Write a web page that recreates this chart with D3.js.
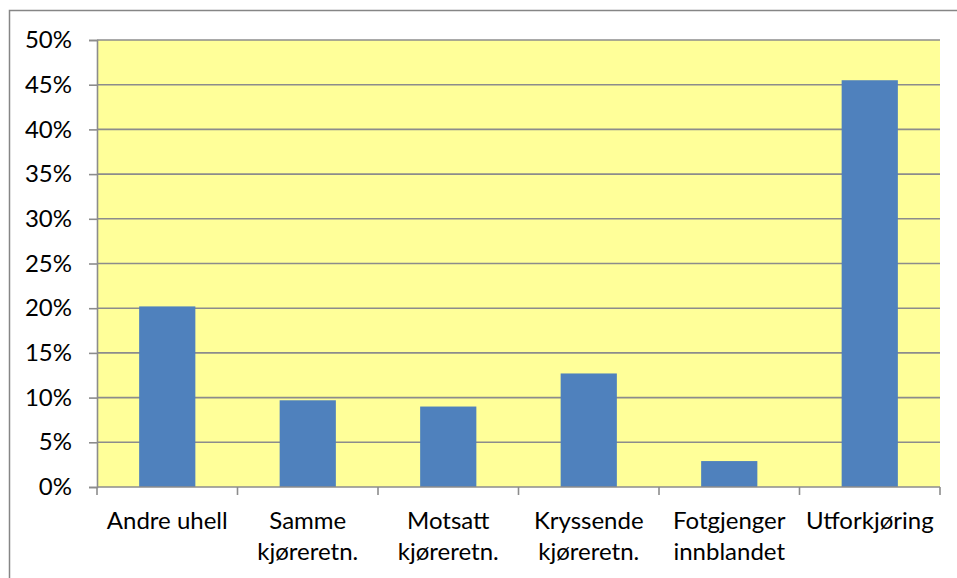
<!DOCTYPE html>
<html>
<head>
<meta charset="utf-8">
<script src="https://cdn.jsdelivr.net/npm/d3@7"></script>
<style>
  html, body { margin: 0; padding: 0; background: #fff; }
  svg { display: block; }
  text { font-family: Lato, "Open Sans", sans-serif; fill: #000; }
</style>
</head>
<body>
<svg id="chart" width="957" height="578"></svg>
<script>
// Share of accidents by accident type
const categories = [
  ["Andre uhell"],
  ["Samme", "kjøreretn."],
  ["Motsatt", "kjøreretn."],
  ["Kryssende", "kjøreretn."],
  ["Fotgjenger", "innblandet"],
  ["Utforkjøring"]
];
const values = [0.202, 0.097, 0.090, 0.127, 0.029, 0.455];
const yTicks = [0, 0.05, 0.10, 0.15, 0.20, 0.25, 0.30, 0.35, 0.40, 0.45, 0.50];

const svg = d3.select("#chart");
const plot = { left: 97, top: 40, right: 940, bottom: 487 };
const fontSize = 24;

// Outer chart frame
svg.append("rect")
  .attr("x", 9.5).attr("y", 10.5)
  .attr("width", 1000).attr("height", 1000)
  .attr("fill", "#fff")
  .attr("stroke", "#868686").attr("stroke-width", 1.5);

const x = d3.scaleBand()
  .domain(d3.range(categories.length))
  .range([plot.left, plot.right])
  .paddingInner(0.6).paddingOuter(0.3);

const xGroup = d3.scaleBand()
  .domain(d3.range(categories.length))
  .range([plot.left, plot.right]);

const y = d3.scaleLinear().domain([0, 0.5]).range([plot.bottom, plot.top]);

// Plot background
svg.append("rect")
  .attr("x", plot.left).attr("y", plot.top)
  .attr("width", plot.right - plot.left).attr("height", plot.bottom - plot.top)
  .attr("fill", "#FFFF99");

// Horizontal gridlines
svg.append("g").selectAll("line")
  .data(yTicks.filter(d => d > 0))
  .join("line")
  .attr("x1", plot.left).attr("x2", plot.right)
  .attr("y1", d => y(d)).attr("y2", d => y(d))
  .attr("stroke", "#8C8C8C").attr("stroke-width", 1.6);

// Bars
svg.append("g").selectAll("rect")
  .data(values)
  .join("rect")
  .attr("x", (d, i) => x(i))
  .attr("width", x.bandwidth())
  .attr("y", d => y(d))
  .attr("height", d => y(0) - y(d))
  .attr("fill", "#4F81BD");

// Y axis
const yAxis = d3.axisLeft(y)
  .tickValues(yTicks)
  .tickFormat(d3.format(".0%"))
  .tickSize(8)
  .tickPadding(17);
const gy = svg.append("g")
  .attr("transform", `translate(${plot.left},0)`)
  .call(yAxis);
gy.select(".domain").attr("stroke", "#8C8C8C").attr("stroke-width", 1.6);
gy.selectAll(".tick line").attr("stroke", "#8C8C8C").attr("stroke-width", 1.6);
gy.selectAll(".tick text")
  .attr("font-family", "Lato, 'Open Sans', sans-serif")
  .attr("font-size", fontSize).attr("fill", "#000");

// X axis: ticks at group boundaries
const bounds = d3.range(categories.length + 1).map(i =>
  i < categories.length ? xGroup(i) : plot.right);
const gx = svg.append("g");
gx.append("line")
  .attr("x1", plot.left).attr("x2", plot.right)
  .attr("y1", plot.bottom).attr("y2", plot.bottom)
  .attr("stroke", "#8C8C8C").attr("stroke-width", 1.6);
gx.selectAll("line.tick")
  .data(bounds)
  .join("line")
  .attr("class", "tick")
  .attr("x1", d => d).attr("x2", d => d)
  .attr("y1", plot.bottom).attr("y2", plot.bottom + 8)
  .attr("stroke", "#8C8C8C").attr("stroke-width", 1.6);

// Category labels
gx.selectAll("text.cat")
  .data(categories)
  .join("text")
  .attr("class", "cat")
  .attr("text-anchor", "middle")
  .attr("font-size", fontSize)
  .attr("transform", (d, i) => `translate(${xGroup(i) + xGroup.bandwidth() / 2},529)`)
  .selectAll("tspan")
  .data(d => d)
  .join("tspan")
  .attr("x", 0)
  .attr("y", (d, j) => j * 31)
  .text(d => d);
</script>
</body>
</html>
